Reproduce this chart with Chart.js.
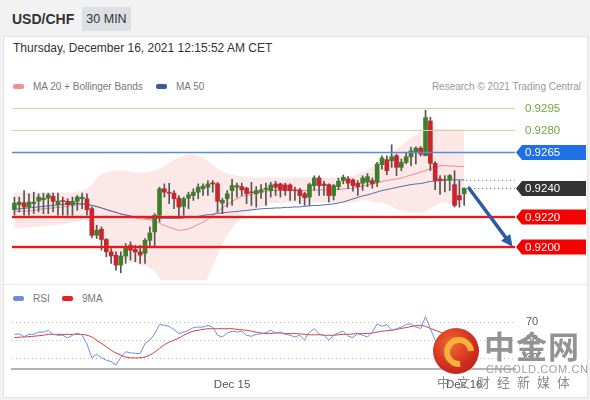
<!DOCTYPE html>
<html lang="en">
<head>
<meta charset="UTF-8">
<title>USD/CHF 30 MIN</title>
<script src="https://cdn.jsdelivr.net/npm/chart.js"></script>
<style>
  body { margin:0; width:590px; height:400px; background:#f2f2f2; position:relative; overflow:hidden;
         font-family:"Liberation Sans", Arial, sans-serif; color:#333; }
  .abs { position:absolute; }
  #pair { left:12px; top:11px; font-size:14px; font-weight:bold; color:#333; }
  #tf { left:82px; top:7px; width:49px; height:24px; line-height:24px; background:#dcdfe3; font-size:12.5px; text-align:center; color:#333; }
  #panel { left:3px; top:36px; width:583px; height:360px; background:#fff; border:1px solid #e3e3e3; }
  #sep { left:4px; top:284px; width:583px; height:1px; background:#e6e6e6; }
  #date { left:13px; top:41px; font-size:12px; color:#333; }
  .leg { font-size:10px; color:#777; }
  .sw { width:11px; height:5px; border-radius:2px; }
  #research { right:9px; top:81px; font-size:10px; color:#999; }
  canvas { position:absolute; left:0; }
  #wmLogo { left:433px; top:328px; width:46px; height:46px; border-radius:50%;
            background:radial-gradient(circle at 40% 35%, #f06a34, #cf2a1e 60%, #b71d18); z-index:5; }
  #wmSwirl { left:11px; top:9px; width:18px; height:18px; border-radius:50%; border:6px solid #f6b23a;
             border-right-color:transparent; transform:rotate(40deg); }
  #wmBig { left:484px; top:325px; font-size:31px; font-weight:bold; color:#939393; letter-spacing:1px;
           font-family:"Noto Sans CJK SC", sans-serif; z-index:5; line-height:40px; }
  #wmUrl { left:486px; top:363px; font-size:11px; color:#a0a0a0; letter-spacing:0.6px; z-index:5; }
  #wmSub { left:437px; top:372px; font-size:13px; color:#8a8a8a; letter-spacing:7px; z-index:5;
           font-family:"Noto Sans CJK SC", sans-serif; }
</style>
</head>
<body>
  <div id="pair" class="abs">USD/CHF</div>
  <div id="tf" class="abs">30 MIN</div>
  <div id="panel" class="abs"></div>
  <div id="sep" class="abs"></div>
  <div id="date" class="abs">Thursday, December 16, 2021 12:15:52 AM CET</div>

  <div class="abs sw" style="left:13px;top:84px;background:#f29191"></div>
  <div class="abs leg" style="left:33px;top:81px">MA 20 + Bollinger Bands</div>
  <div class="abs sw" style="left:156px;top:84px;background:#3c5a9a"></div>
  <div class="abs leg" style="left:176px;top:81px">MA 50</div>
  <div id="research" class="abs">Research © 2021 Trading Central</div>

  <div class="abs sw" style="left:13px;top:296px;background:#6d8fd9"></div>
  <div class="abs leg" style="left:33px;top:293px">RSI</div>
  <div class="abs sw" style="left:62px;top:296px;background:#e32222"></div>
  <div class="abs leg" style="left:82px;top:293px">9MA</div>

  <canvas id="mainChart" width="590" height="215" style="top:70px"></canvas>
  <canvas id="rsiChart" width="590" height="111" style="top:286px"></canvas>

  <div id="wmLogo" class="abs"><div id="wmSwirl" class="abs"></div></div>
  <div id="wmBig" class="abs">中金网</div>
  <div id="wmUrl" class="abs">CNGOLD.COM.CN</div>
  <div id="wmSub" class="abs">中文财经新媒体</div>

<script>
// ---- data ----
const slotCount = 104;          // 94 candles + empty room on the right
const tickIdx = [45, 93];
const tickText = ['Dec 15', 'Dec 16'];

const open = [0.92253,0.92287,0.92300,0.92271,0.92294,0.92312,0.92321,0.92332,0.92344,0.92287,
  0.92316,0.92310,0.92287,0.92310,0.92328,0.92328,0.92260,0.92078,0.92119,0.92049,
  0.91965,0.91942,0.91874,0.91936,0.92010,0.91981,0.91965,0.91954,0.92044,0.92101,
  0.92215,0.92396,0.92373,0.92366,0.92332,0.92276,0.92332,0.92350,0.92373,0.92396,
  0.92407,0.92437,0.92430,0.92298,0.92328,0.92384,0.92407,0.92411,0.92400,0.92375,
  0.92362,0.92373,0.92391,0.92384,0.92429,0.92429,0.92422,0.92422,0.92389,0.92389,
  0.92362,0.92339,0.92418,0.92470,0.92429,0.92425,0.92350,0.92411,0.92452,0.92464,
  0.92457,0.92434,0.92434,0.92441,0.92452,0.92441,0.92561,0.92595,0.92588,0.92622,
  0.92543,0.92577,0.92615,0.92645,0.92674,0.92622,0.92860,0.92570,0.92464,0.92457,
  0.92457,0.92425,0.92350,0.92362];
const high = [0.92339,0.92339,0.92384,0.92362,0.92373,0.92362,0.92366,0.92366,0.92366,0.92366,
  0.92339,0.92328,0.92339,0.92350,0.92366,0.92362,0.92271,0.92147,0.92135,0.92055,
  0.91987,0.91965,0.91965,0.92021,0.92033,0.92010,0.92010,0.92055,0.92135,0.92226,
  0.92407,0.92430,0.92434,0.92384,0.92350,0.92339,0.92373,0.92396,0.92430,0.92430,
  0.92452,0.92452,0.92440,0.92330,0.92384,0.92460,0.92435,0.92435,0.92407,0.92440,
  0.92411,0.92425,0.92435,0.92441,0.92447,0.92435,0.92435,0.92430,0.92407,0.92400,
  0.92373,0.92435,0.92485,0.92485,0.92447,0.92430,0.92425,0.92470,0.92490,0.92480,
  0.92465,0.92452,0.92485,0.92500,0.92470,0.92577,0.92622,0.92622,0.92697,0.92633,
  0.92600,0.92645,0.92679,0.92683,0.92685,0.92933,0.92885,0.92582,0.92486,0.92486,
  0.92493,0.92520,0.92452,0.92402];
const low = [0.92215,0.92238,0.92215,0.92215,0.92226,0.92238,0.92226,0.92226,0.92238,0.92215,
  0.92215,0.92215,0.92215,0.92249,0.92260,0.92215,0.92062,0.92055,0.91976,0.91931,
  0.91886,0.91840,0.91822,0.91886,0.91908,0.91897,0.91886,0.91886,0.91999,0.91999,
  0.92169,0.92339,0.92294,0.92260,0.92203,0.92215,0.92260,0.92316,0.92328,0.92350,
  0.92350,0.92373,0.92237,0.92226,0.92271,0.92282,0.92339,0.92350,0.92294,0.92282,
  0.92271,0.92330,0.92282,0.92339,0.92350,0.92339,0.92350,0.92317,0.92317,0.92294,
  0.92282,0.92282,0.92384,0.92350,0.92350,0.92305,0.92320,0.92390,0.92430,0.92396,
  0.92380,0.92350,0.92385,0.92410,0.92400,0.92410,0.92530,0.92493,0.92543,0.92486,
  0.92520,0.92566,0.92554,0.92566,0.92620,0.92622,0.92520,0.92390,0.92357,0.92375,
  0.92384,0.92271,0.92271,0.92282];
const close = [0.92298,0.92305,0.92271,0.92305,0.92305,0.92339,0.92332,0.92355,0.92310,0.92312,
  0.92310,0.92287,0.92310,0.92339,0.92339,0.92253,0.92078,0.92113,0.92049,0.91965,
  0.91936,0.91874,0.91936,0.91999,0.91976,0.91963,0.91942,0.92044,0.92094,0.92215,
  0.92396,0.92373,0.92366,0.92328,0.92271,0.92328,0.92355,0.92373,0.92407,0.92414,
  0.92429,0.92429,0.92310,0.92317,0.92362,0.92418,0.92418,0.92389,0.92362,0.92370,
  0.92384,0.92389,0.92400,0.92422,0.92407,0.92389,0.92384,0.92384,0.92384,0.92350,
  0.92335,0.92425,0.92470,0.92418,0.92418,0.92350,0.92418,0.92447,0.92475,0.92435,
  0.92418,0.92411,0.92470,0.92479,0.92430,0.92566,0.92607,0.92520,0.92615,0.92543,
  0.92577,0.92615,0.92656,0.92674,0.92633,0.92883,0.92570,0.92452,0.92452,0.92455,
  0.92486,0.92282,0.92321,0.92400];

const ma20 = [0.92241,0.92241,0.92243,0.92245,0.92248,0.92255,0.92259,0.92262,0.92265,0.92269,
  0.92272,0.92276,0.92282,0.92286,0.92289,0.92293,0.92282,0.92272,0.92265,0.92252,
  0.92241,0.92235,0.92224,0.92214,0.92204,0.92197,0.92190,0.92187,0.92184,0.92173,
  0.92160,0.92146,0.92133,0.92122,0.92112,0.92116,0.92122,0.92136,0.92153,0.92167,
  0.92190,0.92214,0.92238,0.92265,0.92289,0.92310,0.92327,0.92344,0.92350,0.92357,
  0.92364,0.92371,0.92378,0.92384,0.92384,0.92384,0.92384,0.92384,0.92384,0.92384,
  0.92384,0.92384,0.92388,0.92388,0.92388,0.92388,0.92388,0.92391,0.92395,0.92398,
  0.92401,0.92408,0.92415,0.92422,0.92429,0.92435,0.92446,0.92452,0.92459,0.92463,
  0.92469,0.92480,0.92490,0.92500,0.92510,0.92520,0.92534,0.92544,0.92554,0.92554,
  0.92551,0.92551,0.92548,0.92548];
const bbUpper = [0.92371,0.92371,0.92371,0.92371,0.92371,0.92371,0.92371,0.92371,0.92371,0.92371,
  0.92371,0.92371,0.92371,0.92378,0.92384,0.92398,0.92425,0.92466,0.92493,0.92507,
  0.92514,0.92520,0.92520,0.92520,0.92514,0.92507,0.92507,0.92507,0.92514,0.92520,
  0.92534,0.92554,0.92575,0.92595,0.92609,0.92622,0.92629,0.92629,0.92622,0.92609,
  0.92588,0.92561,0.92534,0.92514,0.92500,0.92493,0.92486,0.92480,0.92473,0.92473,
  0.92473,0.92473,0.92473,0.92473,0.92473,0.92473,0.92473,0.92473,0.92473,0.92473,
  0.92473,0.92473,0.92473,0.92473,0.92473,0.92473,0.92473,0.92473,0.92476,0.92480,
  0.92486,0.92500,0.92514,0.92527,0.92548,0.92568,0.92588,0.92616,0.92643,0.92670,
  0.92690,0.92718,0.92745,0.92765,0.92786,0.92799,0.92806,0.92806,0.92806,0.92806,
  0.92806,0.92806,0.92806,0.92806];
const bbLower = [0.92126,0.92126,0.92129,0.92133,0.92133,0.92136,0.92139,0.92143,0.92146,0.92150,
  0.92153,0.92156,0.92167,0.92173,0.92180,0.92180,0.92139,0.92078,0.92037,0.91997,
  0.91969,0.91949,0.91929,0.91908,0.91895,0.91888,0.91874,0.91867,0.91854,0.91827,
  0.91786,0.91738,0.91690,0.91650,0.91616,0.91609,0.91616,0.91643,0.91684,0.91724,
  0.91793,0.91867,0.91942,0.92017,0.92078,0.92126,0.92167,0.92207,0.92228,0.92235,
  0.92255,0.92269,0.92282,0.92296,0.92296,0.92300,0.92303,0.92303,0.92303,0.92303,
  0.92303,0.92303,0.92303,0.92303,0.92303,0.92303,0.92303,0.92303,0.92303,0.92303,
  0.92303,0.92309,0.92316,0.92316,0.92309,0.92303,0.92303,0.92289,0.92276,0.92255,
  0.92248,0.92241,0.92235,0.92235,0.92235,0.92241,0.92262,0.92282,0.92303,0.92303,
  0.92296,0.92296,0.92289,0.92289];
const ma50 = [0.92255,0.92259,0.92262,0.92265,0.92269,0.92272,0.92276,0.92279,0.92282,0.92286,
  0.92289,0.92293,0.92296,0.92296,0.92293,0.92289,0.92282,0.92276,0.92265,0.92255,
  0.92245,0.92235,0.92224,0.92218,0.92211,0.92204,0.92201,0.92197,0.92194,0.92194,
  0.92194,0.92194,0.92194,0.92194,0.92194,0.92197,0.92201,0.92204,0.92207,0.92214,
  0.92218,0.92221,0.92228,0.92231,0.92235,0.92238,0.92241,0.92245,0.92248,0.92252,
  0.92255,0.92259,0.92262,0.92262,0.92265,0.92265,0.92269,0.92269,0.92272,0.92272,
  0.92276,0.92279,0.92282,0.92282,0.92286,0.92289,0.92293,0.92299,0.92306,0.92316,
  0.92327,0.92337,0.92347,0.92354,0.92364,0.92374,0.92384,0.92391,0.92398,0.92405,
  0.92412,0.92418,0.92425,0.92429,0.92432,0.92439,0.92446,0.92449,0.92452,0.92456,
  0.92456,0.92457,0.92457,0.92457];

const levelPrices = [0.9295, 0.9280, 0.9265, 0.9240, 0.9220, 0.9200];
const levelText = ['0.9295', '0.9280', '0.9265', '0.9240', '0.9220', '0.9200'];
const arrowFrom = [94, 0.9240];
const arrowTo = [103, 0.9200];

const rsi = [56.5,57,54,56.5,56.5,59,59,61,56.5,55.5,
  55.5,52.5,55.5,58,55.5,46,30.7,34.7,30.7,28,
  26.4,22.7,31,37.3,36.2,35.5,35.5,46.4,50,57,
  67.5,66.4,65.3,61.6,57.3,59,61,64,64.5,64.5,
  66.4,64.5,55.5,53.6,58,60,59,60,55.5,54.4,
  56.5,57,58.4,61,58,59,56.5,55.5,53.6,55.5,
  50,59,62.7,57,55.5,50,55.5,58,60,54.4,
  53,57.3,55.5,53.6,59,68,65.3,67.5,61,62.7,
  64.5,67.5,68,64.5,63,76,62.7,50,48,47,
  50,40,42,47];
const rsiMa = [53,53.3,53.6,54,54.4,55,55.5,56.5,56.5,56.5,
  56.5,56.5,56.5,56.5,56.5,55.5,53.6,50,46.4,43,
  39,36,33.6,31.5,30.7,30.5,30.7,31.5,33.6,37,
  41,45,48,50,52.5,55.5,58,60,61,62,
  62.7,62.7,62.7,62.7,62.7,62.7,62,61.5,61,60,
  59,58,57.3,57.5,58,58,57.5,57.3,57.3,57,
  56.5,56,56,56,55.5,55.5,55.5,56,56.5,56.5,
  57,57.3,57.3,57.5,58,59,60,60.5,61,62,
  63,64,65,66,66.4,65.3,63,61,59,57,
  55,53,51,50];
const rsiLevels = [30, 50, 70];

// ---- categories: 30 minute slots from Dec 14 01:30 ----
const labels = [];
for (let i = 0; i < slotCount; i++) {
  const d = new Date(Date.UTC(2021, 11, 14, 1, 30) + i * 1800000);
  labels.push(d.toISOString().slice(5, 16).replace('T', ' '));
}

Chart.defaults.font.family = '"Liberation Sans", Arial, sans-serif';

const GREEN = '#3f7e2b', RED = '#c9252c';
const lastIdx = close.length - 1;

// level line styles (by index of levelPrices)
const levelStyle = [
  {line:'#c3dcaa', width:1, text:'#72a83e'},
  {line:'#c3dcaa', width:1, text:'#72a83e'},
  {line:'#5d8bd3', width:1.5, box:'#1f6fe5'},
  {line:'#555', width:1, dotted:true, box:'#333'},
  {line:'#e31b1b', width:2, glow:true, box:'#f50000'},
  {line:'#e31b1b', width:2, glow:true, box:'#f50000'}
];

function priceBox(ctx, x, y, w, h, color) {
  ctx.beginPath();
  ctx.moveTo(x, y);
  ctx.lineTo(x + 6, y - h / 2);
  ctx.lineTo(x + w, y - h / 2);
  ctx.lineTo(x + w, y + h / 2);
  ctx.lineTo(x + 6, y + h / 2);
  ctx.closePath();
  ctx.fillStyle = color;
  ctx.fill();
}

const levelsPlugin = {
  id: 'levels',
  afterDatasetsDraw(chart) {
    const {ctx, chartArea: a, scales: {x, y}} = chart;
    ctx.save();
    // dotted continuation of MA 50
    const mY = Math.round(y.getPixelForValue(ma50[lastIdx])) + 0.5;
    ctx.setLineDash([1, 3]);
    ctx.strokeStyle = '#777';
    ctx.lineWidth = 1;
    ctx.beginPath();
    ctx.moveTo(x.getPixelForValue(lastIdx) + 2, mY);
    ctx.lineTo(a.right, mY);
    ctx.stroke();
    ctx.setLineDash([]);

    levelPrices.forEach((p, k) => {
      const st = levelStyle[k];
      const py = Math.round(y.getPixelForValue(p)) + (st.width % 2 ? 0.5 : 0);
      const x0 = st.dotted ? x.getPixelForValue(lastIdx) + 6 : a.left;
      if (st.glow) {
        ctx.strokeStyle = 'rgba(255,60,60,0.25)';
        ctx.lineWidth = 4;
        ctx.beginPath(); ctx.moveTo(x0, py); ctx.lineTo(a.right, py); ctx.stroke();
      }
      ctx.strokeStyle = st.line;
      ctx.lineWidth = st.width;
      ctx.setLineDash(st.dotted ? [1, 3] : []);
      ctx.beginPath(); ctx.moveTo(x0, py); ctx.lineTo(a.right, py); ctx.stroke();
      ctx.setLineDash([]);

      ctx.font = '11.5px "Liberation Sans", Arial, sans-serif';
      ctx.textBaseline = 'middle';
      ctx.textAlign = 'left';
      if (st.box) {
        priceBox(ctx, a.right + 1, py, 70, 15, st.box);
        ctx.fillStyle = '#fff';
      } else {
        ctx.fillStyle = st.text;
      }
      ctx.fillText(levelText[k], a.right + 10, py + 0.5);
    });

    // forecast arrow
    const x1 = x.getPixelForValue(arrowFrom[0]), y1 = y.getPixelForValue(arrowFrom[1]);
    const x2 = x.getPixelForValue(arrowTo[0]), y2 = y.getPixelForValue(arrowTo[1]);
    const ang = Math.atan2(y2 - y1, x2 - x1);
    const head = 13;
    ctx.strokeStyle = '#2d5ba6';
    ctx.fillStyle = '#2d5ba6';
    ctx.lineWidth = 3.5;
    ctx.lineCap = 'round';
    ctx.beginPath();
    ctx.moveTo(x1, y1);
    ctx.lineTo(x2 - Math.cos(ang) * head * 0.8, y2 - Math.sin(ang) * head * 0.8);
    ctx.stroke();
    ctx.beginPath();
    ctx.moveTo(x2, y2);
    ctx.lineTo(x2 - head * Math.cos(ang - 0.45), y2 - head * Math.sin(ang - 0.45));
    ctx.lineTo(x2 - head * Math.cos(ang + 0.45), y2 - head * Math.sin(ang + 0.45));
    ctx.closePath();
    ctx.fill();
    ctx.restore();
  }
};

const candleColor = (ctx) => close[ctx.dataIndex] >= open[ctx.dataIndex] ? GREEN : RED;

new Chart(document.getElementById('mainChart'), {
  type: 'bar',
  data: {
    labels: labels,
    datasets: [
      {type: 'line', data: bbUpper, borderColor: 'transparent', backgroundColor: '#fde8e8',
       fill: '+1', pointRadius: 0, tension: 0.3, order: 6},
      {type: 'line', data: bbLower, borderColor: 'transparent', fill: false,
       pointRadius: 0, tension: 0.3, order: 6},
      {type: 'line', data: ma20, borderColor: '#ec8a8a', borderWidth: 1, pointRadius: 0, tension: 0.3, order: 4},
      {type: 'line', data: ma50, borderColor: '#4a69aa', borderWidth: 1, pointRadius: 0, tension: 0.3, order: 3},
      {data: low.map((l, i) => [l, high[i]]), backgroundColor: '#555',
       barThickness: 1, grouped: false, order: 2},
      {data: open.map((o, i) => [o, close[i]]), backgroundColor: candleColor,
       barThickness: 4, grouped: false, order: 1}
    ]
  },
  options: {
    responsive: false,
    animation: false,
    layout: {padding: {left: 12, right: 75, top: 27, bottom: 5}},
    plugins: {legend: {display: false}, tooltip: {enabled: false}},
    scales: {
      x: {display: false, offset: true},
      y: {display: false, min: 0.91772, max: 0.93024}
    }
  },
  plugins: [levelsPlugin]
});

new Chart(document.getElementById('rsiChart'), {
  type: 'line',
  data: {
    labels: labels,
    datasets: [
      {data: rsi, borderColor: '#6f90d8', borderWidth: 1, pointRadius: 0, tension: 0},
      {data: rsiMa, borderColor: '#d23b3b', borderWidth: 1, pointRadius: 0, tension: 0.3}
    ]
  },
  options: {
    responsive: false,
    animation: false,
    layout: {padding: {left: 12, top: 17, right: 0, bottom: 0}},
    plugins: {legend: {display: false}, tooltip: {enabled: false}},
    scales: {
      x: {
        offset: true,
        grid: {display: false},
        border: {display: true, color: '#b3b3b3', width: 2},
        ticks: {
          autoSkip: false, maxRotation: 0, padding: 1, color: '#555', font: {size: 11.5},
          callback: (v, i) => {
            const k = tickIdx.indexOf(i);
            return k >= 0 ? tickText[k] : '';
          }
        },
        afterFit: (s) => { s.height = 28; }
      },
      y: {
        position: 'right',
        min: 18.3, max: 90.4,
        afterBuildTicks: (s) => { s.ticks = rsiLevels.map(v => ({value: v})); },
        afterFit: (s) => { s.width = 75; },
        grid: {color: '#bdbdbd', drawTicks: false},
        border: {display: false, dash: [1, 3]},
        ticks: {padding: 11, color: '#555', font: {size: 11}}
      }
    }
  }
});
</script>
</body>
</html>
